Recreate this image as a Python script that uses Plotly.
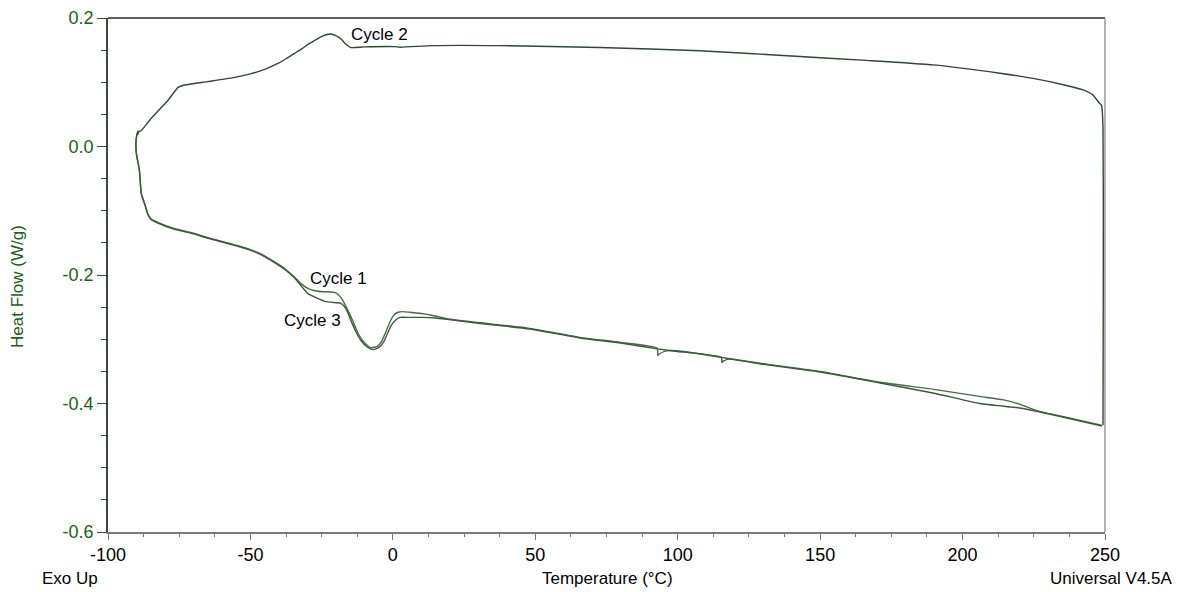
import plotly.graph_objects as go

# ---- data (Temperature °C, Heat Flow W/g) ----
cycle1_T = [-89.4, -89.9, -90.2, -90.0, -89.2, -88.9, -88.3, -87.1, -86.0, -84.8, -81.0, -76.6,
            -70.0, -64.9, -58.0, -50.9, -46.0, -41.4, -38.0, -34.4, -31.8, -29.8, -27.0, -24.5,
            -22.8, -20.5, -19.3, -17.8, -15.8, -14.0, -12.2, -10.0, -7.7, -5.5, -3.8, -2.4, -0.9,
            0.5, 1.8, 3.5, 6.0, 10.0, 14.0, 19.0, 30.0, 48.0, 65.7, 80.0, 92.8, 93.0, 93.5, 96.0,
            100.0, 115.0, 130.0, 150.0, 171.0, 190.0, 206.0, 214.0, 220.0, 226.0, 237.0, 249.0]
cycle1_HF = [0.025, 0.018, 0.005, -0.012, -0.030, -0.040, -0.073, -0.089, -0.105, -0.113, -0.121, -0.128,
             -0.135, -0.142, -0.150, -0.159, -0.168, -0.180, -0.190, -0.204, -0.215, -0.221, -0.225, -0.226,
             -0.226, -0.227, -0.230, -0.238, -0.255, -0.272, -0.291, -0.305, -0.313, -0.311, -0.302, -0.288, -0.272,
             -0.262, -0.258, -0.257, -0.258, -0.260, -0.263, -0.268, -0.274, -0.283, -0.297, -0.305, -0.314, -0.325, -0.323, -0.318,
             -0.318, -0.328, -0.338, -0.350, -0.367, -0.378, -0.389, -0.394, -0.401, -0.411, -0.422, -0.434]

cycle2_T = [249.3, 249.4, 249.3, 248.8, 248.1, 245.8, 242.3, 236.5, 224.8, 213.1, 189.7, 166.3,
            142.9, 107.8, 72.7, 37.6, 14.1, 2.5, 0.7, -10.0, -14.7, -16.5, -18.1, -19.9, -21.8, -23.5, -25.1,
            -27.5, -29.8, -32.0, -34.5, -37.0, -40.0, -45.0, -50.0, -55.0, -64.9, -73.7, -75.4, -78.9, -84.8,
            -88.3, -89.2, -89.6]
cycle2_HF = [-0.434, -0.200, 0.030, 0.064, 0.067, 0.080, 0.088, 0.095, 0.106, 0.114, 0.127, 0.134,
             0.140, 0.149, 0.154, 0.157, 0.157, 0.1545, 0.1555, 0.155, 0.154, 0.159, 0.167, 0.172, 0.175, 0.174, 0.171,
             0.165, 0.159, 0.152, 0.145, 0.138, 0.130, 0.120, 0.113, 0.108, 0.101, 0.095, 0.092, 0.072, 0.044,
             0.025, 0.023, 0.018]

cycle3_T = [-89.4, -89.9, -90.2, -90.0, -89.2, -88.9, -88.3, -87.1, -86.0, -84.8, -81.0, -76.6,
            -70.0, -64.9, -58.0, -50.9, -46.0, -41.4, -38.0, -34.4, -31.8, -29.8, -27.0, -23.8,
            -20.5, -18.2, -16.5, -14.7, -13.0, -11.2, -9.0, -7.0, -5.0, -3.2, -1.8, -0.5, 1.0,
            2.5, 6.0, 10.6, 15.0, 19.0, 30.0, 48.0, 65.7, 80.0, 93.0, 100.0, 115.3, 115.5, 116.0,
            118.0, 130.0, 150.0, 171.0, 190.0, 206.0, 214.0, 220.0, 226.0, 237.0, 249.0]
cycle3_HF = [0.024, 0.017, 0.004, -0.013, -0.031, -0.041, -0.074, -0.090, -0.106, -0.114, -0.122, -0.129,
             -0.136, -0.143, -0.151, -0.160, -0.169, -0.181, -0.191, -0.205, -0.219, -0.229, -0.235, -0.241,
             -0.243, -0.244, -0.252, -0.271, -0.288, -0.302, -0.312, -0.316, -0.313, -0.304, -0.290, -0.278, -0.270,
             -0.266, -0.266, -0.266, -0.267, -0.269, -0.275, -0.284, -0.298, -0.306, -0.315, -0.319, -0.328, -0.336, -0.334,
             -0.331, -0.339, -0.351, -0.368, -0.384, -0.400, -0.404, -0.407, -0.412, -0.423, -0.435]

x_ticks = [-100, -50, 0, 50, 100, 150, 200, 250]
x_labels = ["-100", "-50", "0", "50", "100", "150", "200", "250"]
y_ticks = [-0.6, -0.4, -0.2, 0.0, 0.2]
y_labels = ["-0.6", "-0.4", "-0.2", "0.0", "0.2"]

FONT = "Liberation Sans, Arial, sans-serif"
GREEN = "#1a5e1a"

fig = go.Figure()
fig.add_trace(go.Scatter(x=cycle1_T, y=cycle1_HF, mode="lines", name="Cycle 1",
                         line=dict(color="#4a6a4a", width=1.4, shape="spline", smoothing=0.5)))
fig.add_trace(go.Scatter(x=cycle3_T, y=cycle3_HF, mode="lines", name="Cycle 3",
                         line=dict(color="#3a5a3a", width=1.4, shape="spline", smoothing=0.5)))
fig.add_trace(go.Scatter(x=cycle2_T, y=cycle2_HF, mode="lines", name="Cycle 2",
                         line=dict(color="#2d4a2d", width=1.4, shape="spline", smoothing=0.5)))

fig.update_layout(
    width=1179, height=592,
    margin=dict(l=108, r=74, t=18, b=60, autoexpand=False),
    paper_bgcolor="white", plot_bgcolor="white",
    showlegend=False,
    font=dict(family=FONT, size=17, color="black"),
    xaxis=dict(range=[-100, 250], tickvals=x_ticks, ticktext=x_labels, automargin=False,
               showgrid=False, zeroline=False, showline=True, linecolor="#7a7a7a", linewidth=1.5,
               ticks="outside", ticklen=6, tickcolor="#7a7a7a", tickwidth=1,
               tickfont=dict(family=FONT, size=18, color="black"),
               minor=dict(dtick=12.5, tick0=-100, ticks="outside", ticklen=3, tickcolor="#7a7a7a")),
    yaxis=dict(range=[-0.6, 0.2], tickvals=y_ticks, ticktext=y_labels, automargin=False,
               showgrid=False, zeroline=False, showline=True, linecolor="#3a4a3a", linewidth=1.5,
               ticks="outside", ticklen=9, tickcolor="#3a4a3a", tickwidth=1,
               tickfont=dict(family=FONT, size=18, color=GREEN),
               minor=dict(dtick=0.05, tick0=-0.6, ticks="outside", ticklen=5, tickcolor="#3a4a3a")),
    shapes=[
        dict(type="line", xref="paper", yref="paper", x0=0, x1=1, y0=1, y1=1,
             line=dict(color="#2a2a2a", width=1.5)),
        dict(type="line", xref="paper", yref="paper", x0=1, x1=1, y0=0, y1=1,
             line=dict(color="#9a9a9a", width=1.5)),
    ],
    annotations=[
        dict(text="Cycle 2", x=-15.4, y=0.174, xref="x", yref="y", xanchor="left", yanchor="middle",
             showarrow=False, font=dict(family=FONT, size=17, color="black")),
        dict(text="Cycle 1", x=-29.8, y=-0.205, xref="x", yref="y", xanchor="left", yanchor="middle",
             showarrow=False, font=dict(family=FONT, size=17, color="black")),
        dict(text="Cycle 3", x=-38.9, y=-0.271, xref="x", yref="y", xanchor="left", yanchor="middle",
             showarrow=False, font=dict(family=FONT, size=17, color="black")),
        dict(text="Heat Flow (W/g)", x=-0.0903, y=0.4786, xref="paper", yref="paper",
             xanchor="center", yanchor="middle", textangle=-90, showarrow=False,
             font=dict(family=FONT, size=17, color=GREEN)),
        dict(text="Temperature (°C)", x=0.5015, y=-0.0914, xref="paper", yref="paper",
             xanchor="center", yanchor="middle", showarrow=False,
             font=dict(family=FONT, size=17, color="black")),
        dict(text="Exo Up", x=-0.0682, y=-0.0914, xref="paper", yref="paper",
             xanchor="left", yanchor="middle", showarrow=False,
             font=dict(family=FONT, size=17, color="black")),
        dict(text="Universal V4.5A", x=1.0702, y=-0.0914, xref="paper", yref="paper",
             xanchor="right", yanchor="middle", showarrow=False,
             font=dict(family=FONT, size=17, color="black")),
    ],
)

fig.write_html("out.html")
